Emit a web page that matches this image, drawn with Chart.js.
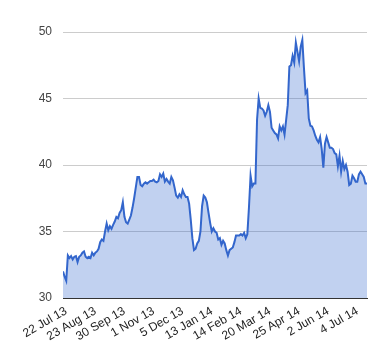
<!DOCTYPE html>
<html>
<head>
<meta charset="utf-8">
<script src="https://cdn.jsdelivr.net/npm/chart.js@4"></script>
<style>
  html, body { margin: 0; padding: 0; background: #fff; }
  #wrap { width: 380px; height: 360px; }
</style>
</head>
<body>
<div id="wrap"><canvas id="chart" width="380" height="360"></canvas></div>
<script>
// one value every ~1.5 trading days
const values = [
  32.0, 31.6, 31.3, 33.2, 33.0, 33.15, 32.9, 33.1, 33.15, 32.7,
  33.1, 33.2, 33.4, 33.5, 33.1, 33.0, 33.1, 33.0, 33.4, 33.2,
  33.4, 33.5, 33.7, 34.2, 34.4, 34.3, 35.0, 35.6, 35.1, 35.4,
  35.2, 35.5, 35.75, 36.1, 36.0, 36.4, 36.6, 37.2, 36.1, 35.7,
  35.6, 35.9, 36.2, 36.8, 37.5, 38.3, 39.1, 39.1, 38.5, 38.4,
  38.6, 38.7, 38.6, 38.7, 38.8, 38.8, 38.9, 38.75, 38.7, 38.8,
  39.3, 39.1, 39.35, 38.75, 38.95, 38.75, 38.6, 39.1, 38.85, 38.3,
  37.7, 37.55, 37.8, 37.6, 38.1, 37.8, 37.6, 37.6, 37.1, 35.9,
  34.5, 33.6, 33.7, 34.1, 34.3, 35.0, 36.9, 37.7, 37.55, 37.2,
  36.4, 35.65, 35.0, 35.25, 35.0, 34.9, 34.4, 34.5, 34.0, 34.3,
  34.1, 33.6, 33.2, 33.6, 33.7, 33.8, 34.2, 34.7, 34.7, 34.7,
  34.8, 34.7, 34.9, 34.5, 34.8, 36.8, 39.2, 38.4, 38.6, 38.6,
  43.4, 45.0, 44.3, 44.25, 44.1, 43.7, 44.0, 44.5, 44.0, 42.8,
  42.6, 42.4, 42.3, 42.0, 42.9, 42.6, 42.9, 42.3, 43.4, 44.5,
  47.4, 47.5, 48.2, 47.7, 49.2, 48.5, 47.8, 48.9, 49.4, 47.3,
  45.4, 45.6, 43.5, 42.95, 42.9, 42.6, 42.2, 41.9, 41.7, 42.1,
  41.2, 39.8, 41.6, 42.1, 41.7, 41.3, 41.3, 41.2, 40.9, 40.8,
  39.9, 40.7, 39.5, 40.3, 39.7, 40.0, 39.5, 38.5, 38.6, 39.2,
  39.0, 38.75, 38.75, 39.3, 39.5, 39.3, 39.1, 38.6, 38.6
];

const tickLabels = ['22 Jul 13', '23 Aug 13', '30 Sep 13', '1 Nov 13', '5 Dec 13',
  '13 Jan 14', '14 Feb 14', '20 Mar 14', '25 Apr 14', '2 Jun 14', '4 Jul 14'];
const tickIndex = [2, 20, 38, 56, 74, 92, 110, 128, 146, 164, 182];

const yTicks = [30, 35, 40, 45, 50];

const points = values.map((v, i) => ({ x: i, y: v }));

new Chart(document.getElementById('chart').getContext('2d'), {
  type: 'line',
  data: {
    datasets: [{
      data: points,
      borderColor: '#3366cc',
      backgroundColor: 'rgba(51,102,204,0.3)',
      borderWidth: 2,
      pointRadius: 0,
      tension: 0,
      fill: 'start'
    }]
  },
  options: {
    responsive: false,
    animation: false,
    layout: { padding: { top: 32, right: 13, left: 0, bottom: 0 } },
    plugins: { legend: { display: false }, tooltip: { enabled: false } },
    scales: {
      x: {
        type: 'linear',
        min: 0,
        max: values.length - 1,
        afterBuildTicks: axis => { axis.ticks = tickIndex.map(v => ({ value: v })); },
        afterFit: axis => { axis.height = 62; },
        grid: { display: false },
        border: { display: true, color: '#333', width: 1 },
        ticks: {
          autoSkip: false,
          minRotation: 30,
          maxRotation: 30,
          padding: -2,
          color: '#222',
          font: { family: 'Arial, "Liberation Sans"', size: 12 },
          callback: v => tickLabels[tickIndex.indexOf(v)]
        }
      },
      y: {
        min: 30,
        max: 50,
        afterBuildTicks: axis => { axis.ticks = yTicks.map(v => ({ value: v })); },
        afterFit: axis => { axis.width = 63; },
        grid: { color: '#cccccc', drawTicks: false },
        border: { display: false },
        ticks: {
          padding: 11,
          color: '#444',
          font: { family: 'Arial, "Liberation Sans"', size: 12 }
        }
      }
    }
  }
});
</script>
</body>
</html>
